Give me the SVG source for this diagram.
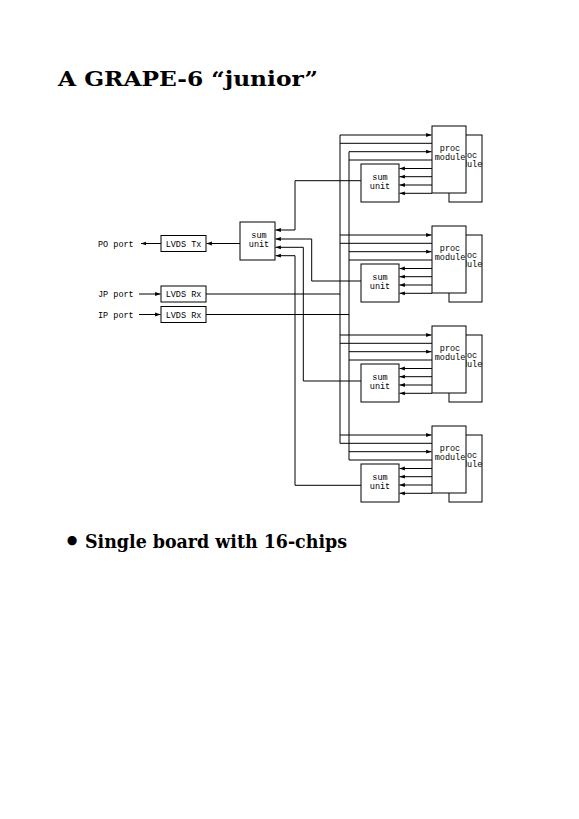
<svg xmlns="http://www.w3.org/2000/svg" width="579" height="819" viewBox="0 0 579 819">
<defs>
<style>
.ln{fill:none;stroke:#000;stroke-width:1}
.bx{fill:#fff;stroke:#000;stroke-width:1}
.t{font-family:"Liberation Mono","DejaVu Sans Mono",monospace;font-size:8.5px;fill:#000}
.c{text-anchor:middle}
.big{font-family:"DejaVu Serif","Liberation Serif",serif;font-weight:bold;fill:#000}
</style>
<marker id="ah" markerUnits="userSpaceOnUse" markerWidth="6" markerHeight="6" viewBox="0 0 5 4" refX="4.5" refY="2" orient="auto">
<path d="M0,0.4 L4.5,2 L0,3.6 z" fill="#000"/>
</marker>
<g id="blk">
<rect class="bx" x="449" y="135" width="33" height="67"/>
<text class="t c" x="467" y="157.5">proc</text>
<text class="t c" x="467" y="167">module</text>
<rect class="bx" x="432" y="126" width="34" height="67"/>
<text class="t c" x="450" y="150.5">proc</text>
<text class="t c" x="450" y="159.5">module</text>
<rect class="bx" x="361" y="164" width="38" height="38"/>
<text class="t c" x="380" y="179.5">sum</text>
<text class="t c" x="380" y="189">unit</text>
<path class="ln" marker-end="url(#ah)" d="M432,168.5H399.5"/>
<path class="ln" marker-end="url(#ah)" d="M432,176.7H399.5"/>
<path class="ln" marker-end="url(#ah)" d="M432,185H399.5"/>
<path class="ln" marker-end="url(#ah)" d="M432,193.3H399.5"/>
<path class="ln" marker-end="url(#ah)" d="M340,135H431.5"/>
<path class="ln" d="M340,143.3H432"/>
<path class="ln" marker-end="url(#ah)" d="M349,151.7H431.5"/>
<path class="ln" d="M349,160H432"/>
</g>
</defs>
<rect width="579" height="819" fill="#fff"/>
<text class="big" x="58" y="86" font-size="20" textLength="260" lengthAdjust="spacingAndGlyphs">A GRAPE-6 “junior”</text>
<g id="block1"><use href="#blk"/></g>
<g id="block2"><use href="#blk" y="100"/></g>
<g id="block3"><use href="#blk" y="200"/></g>
<g id="block4"><use href="#blk" y="300"/></g>
<g id="main-sum">
<rect class="bx" x="240" y="222" width="35" height="38"/>
<text class="t c" x="259" y="237.5">sum</text>
<text class="t c" x="259" y="246.5">unit</text>
</g>
<g id="lvds-tx">
<rect class="bx" x="161" y="235.5" width="45" height="16"/>
<text class="t c" x="183.5" y="246.5">LVDS Tx</text>
</g>
<g id="lvds-rx-jp">
<rect class="bx" x="161" y="286" width="45" height="16"/>
<text class="t c" x="183.5" y="297">LVDS Rx</text>
</g>
<g id="lvds-rx-ip">
<rect class="bx" x="161" y="306.5" width="45" height="16"/>
<text class="t c" x="183.5" y="317.5">LVDS Rx</text>
</g>
<g id="ports">
<text class="t" x="98" y="246.5">PO port</text>
<text class="t" x="98" y="297">JP port</text>
<text class="t" x="98" y="317.5">IP port</text>
</g>
<g id="connectors">
<path class="ln" d="M340,135V443.3"/>
<path class="ln" d="M349,151.7V460"/>
<path class="ln" marker-end="url(#ah)" d="M361,180.7H295V230H275.5"/>
<path class="ln" marker-end="url(#ah)" d="M361,281H311.7V239H275.5"/>
<path class="ln" marker-end="url(#ah)" d="M361,381H303.3V247.3H275.5"/>
<path class="ln" marker-end="url(#ah)" d="M361,485.3H295V255.7H275.5"/>
<path class="ln" marker-end="url(#ah)" d="M240,243.5H206.5"/>
<path class="ln" marker-end="url(#ah)" d="M161,243.5H141"/>
<path class="ln" marker-end="url(#ah)" d="M139,294H160.5"/>
<path class="ln" marker-end="url(#ah)" d="M139,314.5H160.5"/>
<path class="ln" d="M206,294H340"/>
<path class="ln" d="M206,314.5H349"/>
</g>
<text class="big" x="72" y="550" font-size="26" text-anchor="middle">•</text>
<text class="big" x="85" y="548" font-size="18" textLength="262" lengthAdjust="spacingAndGlyphs">Single board with 16-chips</text>
</svg>
